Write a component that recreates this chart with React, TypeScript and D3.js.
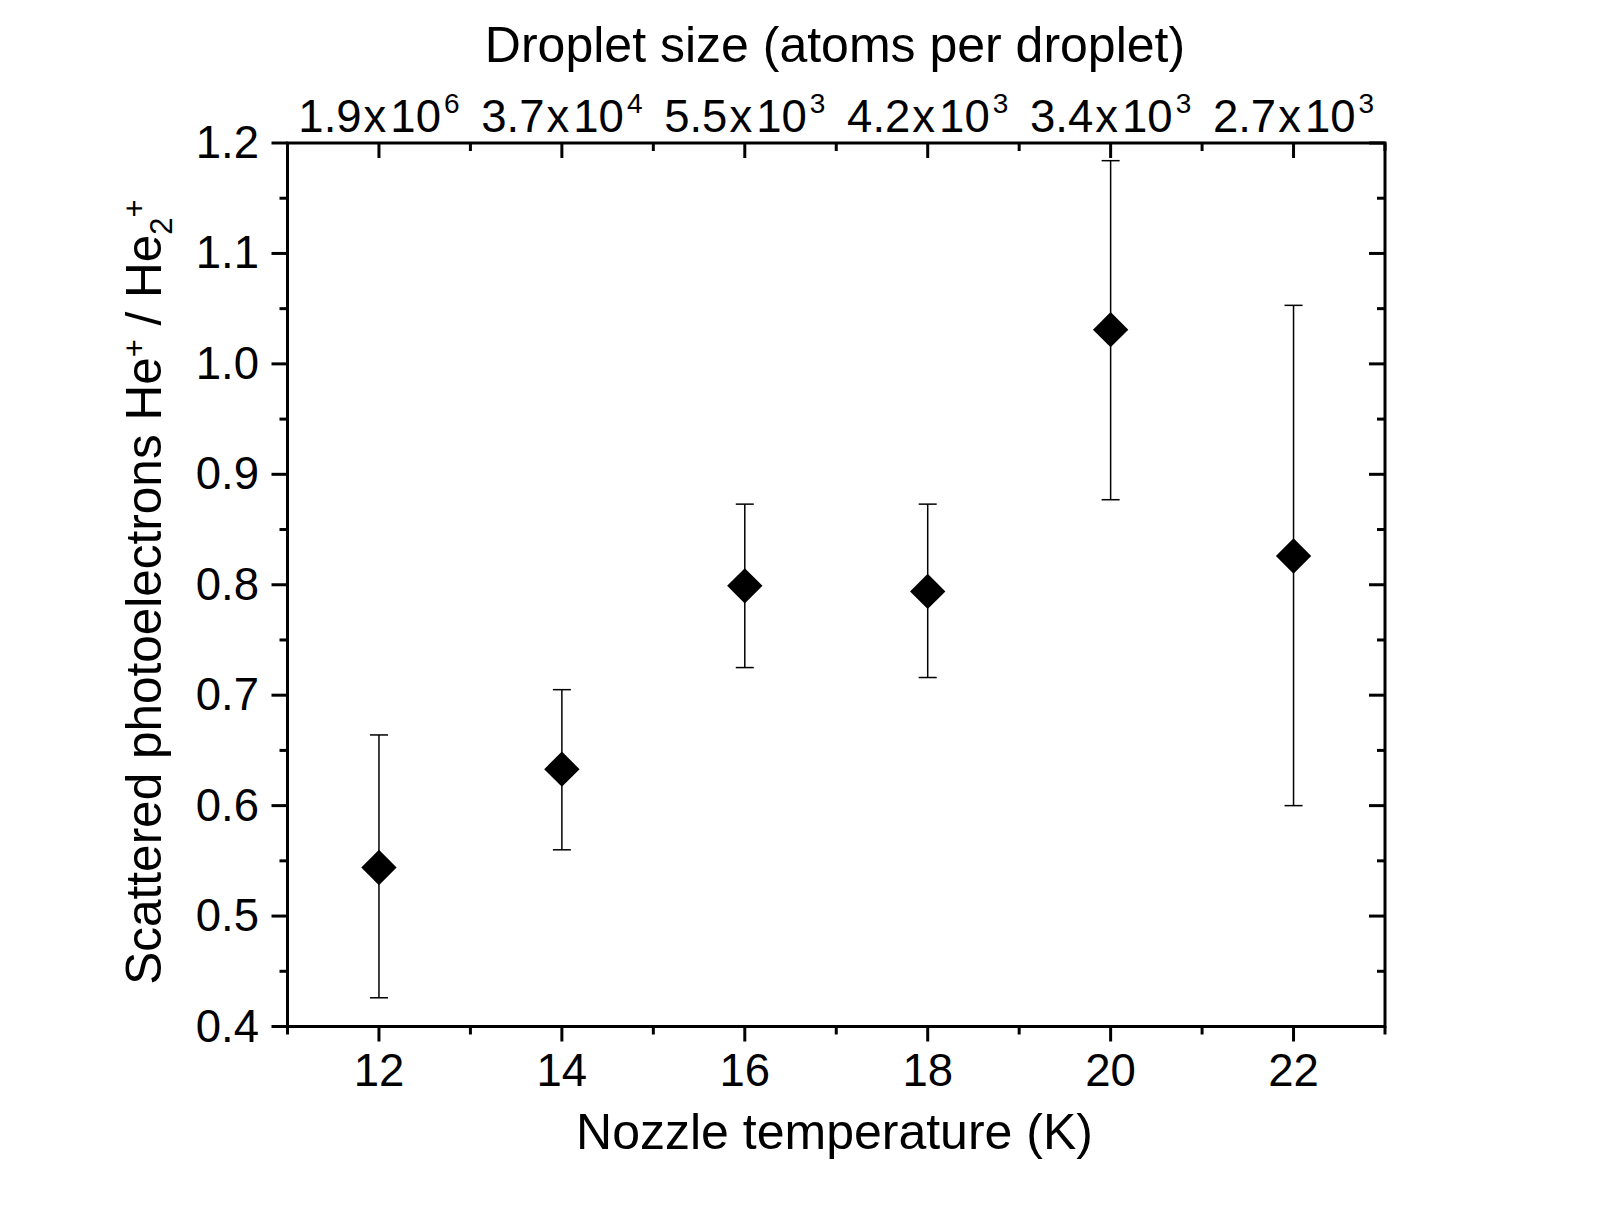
import React from "react";
import * as d3 from "d3";

const temps = [12, 14, 16, 18, 20, 22];
const ratio = [0.544, 0.633, 0.799, 0.794, 1.031, 0.826];
const errLow = [0.426, 0.560, 0.725, 0.716, 0.877, 0.600];
const errHigh = [0.664, 0.705, 0.873, 0.873, 1.184, 1.053];
const dropletMantissa = ["1.9", "3.7", "5.5", "4.2", "3.4", "2.7"];
const dropletExp = ["6", "4", "3", "3", "3", "3"];
const yTickValues = [0.4, 0.5, 0.6, 0.7, 0.8, 0.9, 1.0, 1.1, 1.2];

const W = 1609;
const H = 1232;
const FONT = "'Liberation Sans', Arial, Helvetica, sans-serif";

export default function App() {
  const x = d3.scaleLinear().domain([11, 23]).range([287.5, 1385]);
  const y = d3.scaleLinear().domain([0.4, 1.2]).range([1026.5, 143]);
  const [x0, x1] = x.range();
  const [yb, yt] = y.range();

  const xMinor = d3.range(11, 23.01, 1);
  const yMinor = d3.range(0.4, 1.2001, 0.05);
  const isMajorX = (v: number) => Math.round(v) % 2 === 0;
  const isMajorY = (v: number) => Math.abs(Math.round(v * 10) - v * 10) < 1e-6;

  const diamond = d3.symbol().type(d3.symbolSquare).size(25 * 25)();

  const fs = 45.5;
  const titleFs = 50;

  return (
    <svg
      width={W}
      height={H}
      style={{ position: "absolute", left: 0, top: 0, background: "#fff" }}
      fontFamily={FONT}
    >
      <rect x={0} y={0} width={W} height={H} fill="#fff" />
      {/* frame */}
      <rect x={x0} y={yt} width={x1 - x0} height={yb - yt} fill="none" stroke="#000" strokeWidth={3} />

      {/* x ticks bottom (out) & top (in) */}
      {xMinor.map((v) => {
        const len = isMajorX(v) ? 15 : 8;
        const px = x(v);
        return (
          <g key={"xt" + v}>
            <line x1={px} x2={px} y1={yb} y2={yb + len} stroke="#000" strokeWidth={3} />
            <line x1={px} x2={px} y1={yt} y2={yt + len} stroke="#000" strokeWidth={3} />
          </g>
        );
      })}
      {/* y ticks left (out) & right (in) */}
      {yMinor.map((v) => {
        const len = isMajorY(v) ? 16 : 8;
        const py = y(v);
        return (
          <g key={"yt" + v.toFixed(2)}>
            <line x1={x0} x2={x0 - len} y1={py} y2={py} stroke="#000" strokeWidth={3} />
            <line x1={x1} x2={x1 - len} y1={py} y2={py} stroke="#000" strokeWidth={3} />
          </g>
        );
      })}

      {/* bottom tick labels */}
      {temps.map((t) => (
        <text key={"xl" + t} x={x(t)} y={1086} fontSize={fs} textAnchor="middle" fill="#000">
          {t}
        </text>
      ))}
      {/* left tick labels */}
      {yTickValues.map((v) => (
        <text key={"yl" + v} x={259} y={y(v) + 15} fontSize={fs} textAnchor="end" fill="#000">
          {v.toFixed(1)}
        </text>
      ))}
      {/* top tick labels */}
      {temps.map((t, i) => (
        <text key={"tl" + t} x={x(t)} y={132} fontSize={fs} textAnchor="middle" fill="#000">
          {dropletMantissa[i]}
          <tspan dx={2}>x</tspan>
          <tspan dx={4}>10</tspan>
          <tspan fontSize={28} dx={3} dy={-19}>{dropletExp[i]}</tspan>
        </text>
      ))}

      {/* titles */}
      <text x={835} y={62} fontSize={titleFs} textAnchor="middle" fill="#000">
        Droplet size (atoms per droplet)
      </text>
      <text x={834.5} y={1149} fontSize={titleFs} textAnchor="middle" fill="#000">
        Nozzle temperature (K)
      </text>
      <text
        transform={`translate(161,${592}) rotate(-90)`}
        fontSize={49.5}
        textAnchor="middle"
        fill="#000"
      >
        Scattered photoelectrons He
        <tspan fontSize={31} dy={-16}>+</tspan>
        <tspan dy={16}> / He</tspan>
        <tspan fontSize={31} dy={11}>2</tspan>
        <tspan fontSize={31} dy={-27}>+</tspan>
      </text>

      {/* error bars */}
      {temps.map((t, i) => {
        const px = x(t);
        return (
          <g key={"eb" + t} stroke="#000" strokeWidth={1.5}>
            <line x1={px} x2={px} y1={y(errLow[i])} y2={y(errHigh[i])} />
            <line x1={px - 9} x2={px + 9} y1={y(errLow[i])} y2={y(errLow[i])} />
            <line x1={px - 9} x2={px + 9} y1={y(errHigh[i])} y2={y(errHigh[i])} />
          </g>
        );
      })}
      {/* diamonds */}
      {temps.map((t, i) => (
        <path
          key={"pt" + t}
          d={diamond || ""}
          transform={`translate(${x(t)},${y(ratio[i])}) rotate(45)`}
          fill="#000"
        />
      ))}
    </svg>
  );
}
